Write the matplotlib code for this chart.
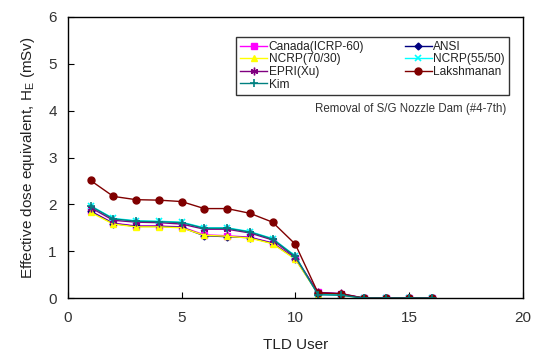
import matplotlib
matplotlib.use("Agg")
import matplotlib.pyplot as plt

plt.rcParams['font.family'] = ['Liberation Sans', 'DejaVu Sans']

users = list(range(1, 17))
canada = [1.86, 1.60, 1.54, 1.54, 1.52, 1.35, 1.33, 1.30, 1.18, 0.85, 0.12, 0.09, 0, 0, 0, 0]
ansi = [1.85, 1.59, 1.53, 1.53, 1.51, 1.33, 1.31, 1.29, 1.17, 0.84, 0.10, 0.08, 0, 0, 0, 0]
ncrp7030 = [1.83, 1.58, 1.52, 1.52, 1.50, 1.34, 1.32, 1.28, 1.16, 0.83, 0.09, 0.07, 0, 0, 0, 0]
ncrp5550 = [1.97, 1.70, 1.65, 1.64, 1.62, 1.50, 1.50, 1.42, 1.27, 0.90, 0.08, 0.07, 0, 0, 0, 0]
epri = [1.93, 1.66, 1.62, 1.61, 1.58, 1.47, 1.47, 1.39, 1.24, 0.87, 0.12, 0.10, 0, 0, 0, 0]
lakshmanan = [2.51, 2.17, 2.10, 2.09, 2.06, 1.91, 1.91, 1.81, 1.62, 1.15, 0.11, 0.09, 0, 0, 0, 0]
kim = [1.96, 1.69, 1.64, 1.63, 1.61, 1.49, 1.49, 1.41, 1.26, 0.89, 0.07, 0.06, 0, 0, 0, 0]

fig = plt.figure(figsize=(5.34, 3.6), dpi=100)
ax = fig.add_axes([0.127, 0.172, 0.852, 0.781])

ms = 4.5
lw = 1.0
h_canada, = ax.plot(users, canada, color='#FF00FF', marker='s', ms=ms, lw=lw, label='Canada(ICRP-60)')
h_ansi, = ax.plot(users, ansi, color='#000080', marker='D', ms=3.5, lw=lw, label='ANSI')
h_ncrp7030, = ax.plot(users, ncrp7030, color='#FFFF00', marker='^', ms=ms, lw=lw, label='NCRP(70/30)')
h_ncrp5550, = ax.plot(users, ncrp5550, color='#00FFFF', marker='x', ms=ms, mew=1.2, lw=lw, label='NCRP(55/50)')
h_epri, = ax.plot(users, epri, color='#800080', marker=(6, 2, 0), ms=ms+1, mew=1.0, lw=lw, label='EPRI(Xu)')
h_lak, = ax.plot(users, lakshmanan, color='#800000', marker='o', ms=ms+0.5, lw=lw, label='Lakshmanan')
h_kim, = ax.plot(users, kim, color='#008080', marker='+', ms=ms+1, mew=1.2, lw=lw, label='Kim')

ax.set_xlim(0, 20)
ax.set_ylim(0, 6)
ax.set_xticks([0, 5, 10, 15, 20])
ax.set_yticks([0, 1, 2, 3, 4, 5, 6])
ax.tick_params(direction='in', length=4, labelsize=11, labelcolor='#333333', pad=8, top=False, right=False)
ax.tick_params(axis='x', pad=9)
for s in ax.spines.values():
    s.set_linewidth(1.0)

ax.set_xlabel('TLD User', fontsize=11, color='#222222', labelpad=10)
ax.set_ylabel(r'Effective dose equivalent, H$_{\mathregular{E}}$ (mSv)', fontsize=11, color='#222222', labelpad=8)

handles = [h_canada, h_ncrp7030, h_epri, h_kim, h_ansi, h_ncrp5550, h_lak]
leg = ax.legend(handles=handles, ncol=2, loc='upper left', bbox_to_anchor=(0.369, 0.93),
                fontsize=8.6, frameon=True, fancybox=False, edgecolor='black',
                handlelength=2.3, handletextpad=0.1, columnspacing=3.4, labelspacing=0.05,
                borderpad=0.35, borderaxespad=0)
leg.get_frame().set_linewidth(1.0)
for t in leg.get_texts():
    t.set_color('#222222')

ax.text(0.963, 0.672, 'Removal of S/G Nozzle Dam (#4-7th)', transform=ax.transAxes,
        ha='right', va='center', fontsize=8.3, color='#333333')

fig.savefig('out.png', dpi=100)
